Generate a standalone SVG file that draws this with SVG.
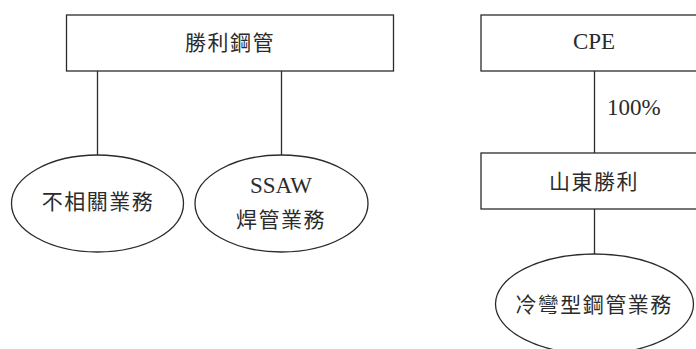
<svg xmlns="http://www.w3.org/2000/svg" width="696" height="349" viewBox="0 0 696 349">
<style>
.n{fill:#fff;stroke:#2b2b2b;stroke-width:1.3}
.c{stroke:#2b2b2b;stroke-width:1.3;fill:none}
.t{font-family:"Liberation Serif","Noto Sans CJK TC",serif;font-size:21px;fill:#2b2b2b;text-anchor:middle;letter-spacing:1.5px}
.e{font-family:"Liberation Serif",serif;font-size:23px;fill:#2b2b2b;text-anchor:middle}
.l{font-family:"Liberation Serif",serif;font-size:23px;fill:#2b2b2b}
</style>
<rect width="696" height="349" fill="#fff"/>
<g id="connectors">
<line class="c" x1="97.5" y1="71" x2="97.5" y2="155"/>
<line class="c" x1="281.5" y1="71" x2="281.5" y2="155"/>
<line class="c" x1="594.5" y1="71" x2="594.5" y2="153"/>
<line class="c" x1="594.5" y1="209" x2="594.5" y2="254"/>
<text class="l" x="607" y="115">100%</text>
</g>
<g id="shengli">
<rect class="n" x="66.5" y="15" width="327" height="56"/>
<text class="t" x="230" y="50">勝利鋼管</text>
</g>
<g id="unrelated">
<ellipse class="n" cx="97.5" cy="203.5" rx="86" ry="48.5"/>
<text class="t" x="98" y="209">不相關業務</text>
</g>
<g id="ssaw">
<ellipse class="n" cx="281.5" cy="203.5" rx="86.5" ry="48.5"/>
<text class="e" x="281" y="193">SSAW</text>
<text class="t" x="281" y="227">焊管業務</text>
</g>
<g id="cpe">
<rect class="n" x="481" y="15" width="220" height="56"/>
<text class="e" x="594" y="49">CPE</text>
</g>
<g id="shandong">
<rect class="n" x="481" y="153" width="220" height="56"/>
<text class="t" x="594" y="189">山東勝利</text>
</g>
<g id="coldformed">
<ellipse class="n" cx="594.5" cy="304" rx="99" ry="50"/>
<text class="t" x="594" y="312">冷彎型鋼管業務</text>
</g>
</svg>
